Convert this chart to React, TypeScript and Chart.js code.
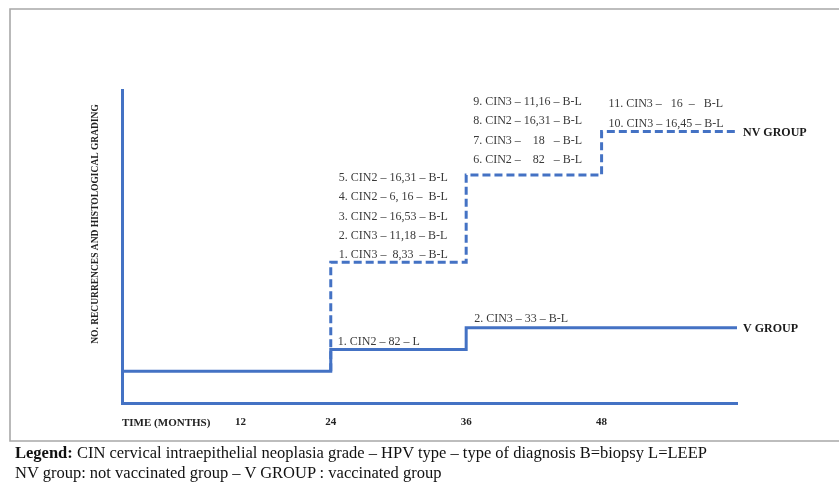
import React, { useEffect, useRef } from "react";
import { Chart, registerables } from "chart.js";

Chart.register(...registerables);

// ---- data ----
const vMonths = [5.5, 24, 36, 60];
const vCounts = [0, 1, 2, 2];
// NV group shares the V baseline before month 24; its dashed line starts at the first step
const nvMonths = [24, 24, 36, 48, 60];
const nvCounts = [0, 5, 9, 11, 11];

// the "12" label sits off-scale in the original drawing (about month 16)
const xTickValues = [16, 24, 36, 48];
const xTickLabels = ["12", "24", "36", "48"];
const xAxisTitle = "TIME (MONTHS)";
const yAxisTitle = "NO. RECURRENCES AND HISTOLOGICAL GRADING";

const seriesNames = ["V GROUP", "NV GROUP"];

const vNotes24 = ["1. CIN2 – 82 – L"];
const vNotes36 = ["2. CIN3 – 33 – B-L"];
const nvNotes24 = [
  "1. CIN3 –  8,33  – B-L",
  "2. CIN3 – 11,18 – B-L",
  "3. CIN2 – 16,53 – B-L",
  "4. CIN2 – 6, 16 –  B-L",
  "5. CIN2 – 16,31 – B-L",
];
const nvNotes36 = [
  "6. CIN2 –    82   – B-L",
  "7. CIN3 –    18   – B-L",
  "8. CIN2 – 16,31 – B-L",
  "9. CIN3 – 11,16 – B-L",
];
const nvNotes48 = ["10. CIN3 – 16,45 – B-L", "11. CIN3 –   16  –   B-L"];

const legendLine1Bold = "Legend:";
const legendLine1 =
  " CIN cervical intraepithelial neoplasia grade – HPV type – type of diagnosis B=biopsy L=LEEP";
const legendLine2 = "NV group: not vaccinated group – V GROUP : vaccinated group";

// ---- styles ----
const BLUE = "#4472C4";
const SERIF = "'Liberation Serif', 'Times New Roman', serif";

const noteBlocks = [
  { series: 0, month: 24, lines: vNotes24 },
  { series: 0, month: 36, lines: vNotes36 },
  { series: 1, month: 24, lines: nvNotes24 },
  { series: 1, month: 36, lines: nvNotes36 },
  { series: 1, month: 48, lines: nvNotes48 },
];
const noteOffsets = [
  { dx: 7, dy: 8 },
  { dx: 8, dy: 9 },
  { dx: 8, dy: 7 },
  { dx: 7, dy: 15 },
  { dx: 7, dy: 8 },
];
const NOTE_LINE_GAP = 19.4;

const seriesMonths = [vMonths, nvMonths];
const seriesCounts = [vCounts, nvCounts];

const decorPlugin = {
  id: "decor",
  beforeDraw(chart: any) {
    const ctx = chart.ctx;
    ctx.save();
    ctx.fillStyle = "#ffffff";
    ctx.fillRect(0, 0, chart.width, chart.height);
    ctx.strokeStyle = "#a8a8a8";
    ctx.lineWidth = 1.6;
    ctx.beginPath();
    ctx.moveTo(chart.width + 2, 9);
    ctx.lineTo(10, 9);
    ctx.lineTo(10, 441);
    ctx.lineTo(chart.width + 2, 441);
    ctx.stroke();
    ctx.restore();
  },
  afterDraw(chart: any) {
    const ctx = chart.ctx;
    const xs = chart.scales.x;
    const ys = chart.scales.y;
    ctx.save();
    // y axis title (rotated)
    ctx.font = `bold 9.5px ${SERIF}`;
    ctx.fillStyle = "#222222";
    ctx.textAlign = "center";
    ctx.textBaseline = "middle";
    ctx.translate(96, 224);
    ctx.rotate(-Math.PI / 2);
    ctx.fillText(yAxisTitle, 0, 0);
    ctx.restore();

    // step notes
    ctx.save();
    ctx.font = `12px ${SERIF}`;
    ctx.fillStyle = "#3a3a3a";
    ctx.textAlign = "left";
    ctx.textBaseline = "middle";
    noteBlocks.forEach((b, i) => {
      const months = seriesMonths[b.series];
      const counts = seriesCounts[b.series];
      const level = counts[months.lastIndexOf(b.month)];
      const x0 = xs.getPixelForValue(b.month) + noteOffsets[i].dx;
      const y0 = ys.getPixelForValue(level) - noteOffsets[i].dy;
      b.lines.forEach((t, j) => ctx.fillText(t, x0, y0 - j * NOTE_LINE_GAP));
    });

    // series end labels
    ctx.font = `bold 12px ${SERIF}`;
    ctx.fillStyle = "#1a1a1a";
    seriesNames.forEach((name, i) => {
      const months = seriesMonths[i];
      const counts = seriesCounts[i];
      const last = months.length - 1;
      ctx.fillText(name, xs.getPixelForValue(months[last]) + 6, ys.getPixelForValue(counts[last]) + 1);
    });
    ctx.restore();
  },
};

export default function App() {
  const canvasRef = useRef<HTMLCanvasElement | null>(null);

  useEffect(() => {
    const canvas = canvasRef.current;
    if (!canvas) return;
    const chart = new Chart(canvas, {
      type: "line",
      data: {
        datasets: [
          {
            label: seriesNames[0],
            data: vMonths.map((m, i) => ({ x: m, y: vCounts[i] })),
            borderColor: BLUE,
            borderWidth: 3,
            stepped: "before",
            pointRadius: 0,
            fill: false,
          },
          {
            label: seriesNames[1],
            data: nvMonths.map((m, i) => ({ x: m, y: nvCounts[i] })),
            borderColor: BLUE,
            borderWidth: 3,
            borderDash: [8, 4],
            stepped: "before",
            pointRadius: 0,
            fill: false,
          },
        ],
      },
      options: {
        animation: false,
        responsive: false,
        devicePixelRatio: 1,
        layout: { padding: { top: 90, right: 102, left: 0, bottom: 0 } },
        plugins: {
          legend: { display: false },
          title: { display: false },
          tooltip: { enabled: false },
        },
        scales: {
          x: {
            type: "linear",
            min: 5.5,
            max: 60,
            grid: { display: false, drawTicks: false },
            border: { display: true, color: BLUE, width: 3 },
            afterBuildTicks: (s: any) => {
              s.ticks = xTickValues.map((v) => ({ value: v }));
            },
            afterFit: (s: any) => {
              s.height = 42;
            },
            ticks: {
              autoSkip: false,
              maxRotation: 0,
              padding: 13,
              color: "#222222",
              font: { family: SERIF, size: 11, weight: "bold" },
              callback: (_v: any, i: number) => xTickLabels[i],
            },
            title: {
              display: true,
              text: xAxisTitle,
              align: "start",
              color: "#222222",
              font: { family: SERIF, size: 11, weight: "bold" },
              padding: { top: 0, bottom: 15.4 },
            },
          },
          y: {
            type: "linear",
            min: -1.45,
            max: 12.9,
            grid: { display: false, drawTicks: false },
            border: { display: true, color: BLUE, width: 3 },
            ticks: { display: false },
            afterFit: (s: any) => {
              s.width = 122;
            },
          },
        },
      },
      plugins: [decorPlugin],
    } as any);
    return () => chart.destroy();
  }, []);

  return (
    <div
      style={{
        position: "fixed",
        left: 0,
        top: 0,
        width: 839,
        height: 485,
        background: "#ffffff",
        overflow: "hidden",
      }}
    >
      <canvas ref={canvasRef} width={839} height={445} style={{ position: "absolute", left: 0, top: 0 }} />
      <div
        style={{
          position: "absolute",
          left: 15,
          top: 443,
          fontFamily: SERIF,
          fontSize: 16.5,
          lineHeight: "19.5px",
          color: "#111",
          whiteSpace: "pre",
        }}
      >
        <div>
          <b>{legendLine1Bold}</b>
          {legendLine1}
        </div>
        <div>{legendLine2}</div>
      </div>
    </div>
  );
}
